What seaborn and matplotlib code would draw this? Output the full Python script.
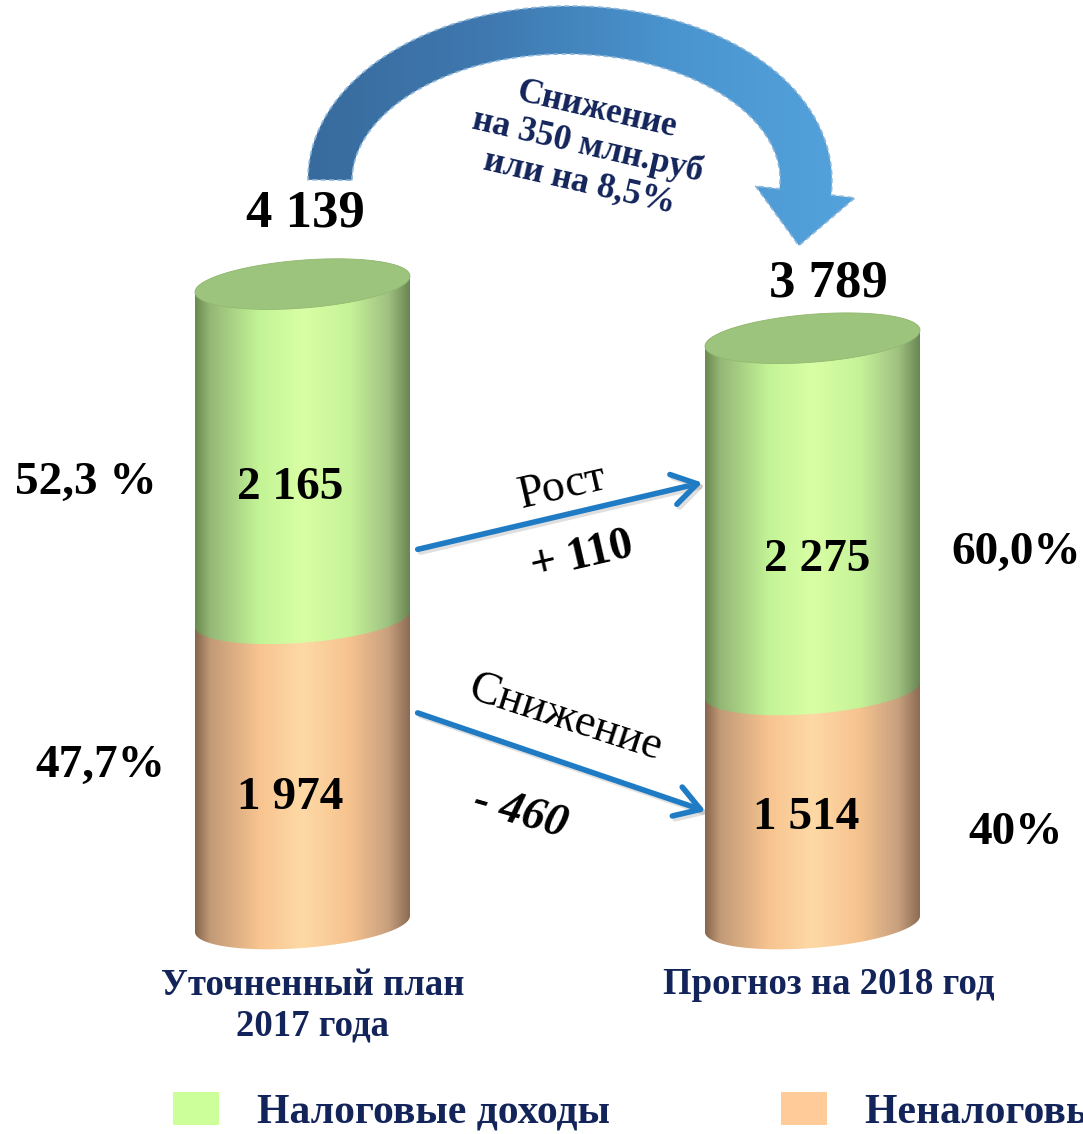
import numpy as np
import pandas as pd
import matplotlib
matplotlib.use("Agg")
import matplotlib.pyplot as plt
import seaborn as sns
from matplotlib.patches import Polygon, Rectangle, FancyArrowPatch
from matplotlib.colors import LinearSegmentedColormap
import matplotlib.patheffects as pe

# ---------------- data ----------------
categories = ["Уточненный план\n2017 года", "Прогноз на 2018 год"]
tax_income = [2165, 2275]
nontax_income = [1974, 1514]
totals = [4139, 3789]
total_labels = ["4 139", "3 789"]
tax_labels = ["2 165", "2 275"]
nontax_labels = ["1 974", "1 514"]
tax_share = ["52,3 %", "60,0%"]
nontax_share = ["47,7%", "40%"]
legend_labels = ["Налоговые доходы", "Неналоговые доходы"]
change_text = "Снижение\nна 350 млн.руб\nили на 8,5%"
tax_change = ["Рост", "+ 110"]
nontax_change = ["Снижение", "- 460"]

# ---------------- style ----------------
W, H = 1083, 1134
sns.set_theme(style="white")
plt.rcParams['font.family'] = ['Liberation Serif', 'DejaVu Serif']
NAVY = '#12245a'
GREEN = '#ccff99'
ORANGE = '#ffcc99'

fig = plt.figure(figsize=(W / 100, H / 100), dpi=100)
fig.patch.set_facecolor('white')
ax = fig.add_axes([0, 0, 1, 1])

df = pd.DataFrame({"cat": categories, "total": totals, "nontax": nontax_income})
bw = 215 / 510
sns.barplot(data=df, x="cat", y="total", color=GREEN, width=bw, errorbar=None,
            ax=ax, order=categories)
sns.barplot(data=df, x="cat", y="nontax", color=ORANGE, width=bw, errorbar=None,
            ax=ax, order=categories)
px_per_unit = 0.1546
base_px = 924
ax.set_xlim(-302.5 / 510, (W - 302.5) / 510)
ax.set_ylim((base_px - H) / px_per_unit, base_px / px_per_unit)
ax.axis('off')

# overlay axes in pixel coordinates (y down)
ax2 = fig.add_axes([0, 0, 1, 1], zorder=5)
ax2.set_xlim(0, W)
ax2.set_ylim(H, 0)
ax2.axis('off')
ax2.patch.set_alpha(0)


def to_px(x, y):
    dx, dy = ax.transData.transform((x, y))
    return dx, H - dy


green_cmap = LinearSegmentedColormap.from_list('g', [
    (0.0, '#6a8a4e'), (0.07, '#95b777'), (0.3, '#c3f496'), (0.5, '#d9ffa4'),
    (0.72, '#c6f398'), (0.9, '#a0c182'), (1.0, '#6a8652')])
orange_cmap = LinearSegmentedColormap.from_list('o', [
    (0.0, '#87664c'), (0.07, '#c29a77'), (0.3, '#f8c490'), (0.5, '#fed9a5'),
    (0.72, '#f6c38f'), (0.9, '#c8a07e'), (1.0, '#8c6c54')])
grad = np.linspace(0, 1, 256).reshape(1, -1)

B = 24      # ellipse semi-minor (px)
K = 0.075   # tilt shear


def ell(xc, a, yc, t):
    x = xc + a * np.cos(t)
    y = yc - B * np.sin(t) - K * (x - xc)
    return x, y


def segment(xl, xr, ytop, ybot, cmap, z):
    xc, a = (xl + xr) / 2, (xr - xl) / 2
    tb = np.linspace(np.pi, 2 * np.pi, 80)
    tt = np.linspace(0, np.pi, 80)
    bx, by = ell(xc, a, ybot, tb)
    tx_, ty_ = ell(xc, a, ytop, tt)
    xs = np.concatenate([bx, tx_])
    ys = np.concatenate([by, ty_])
    poly = Polygon(np.column_stack([xs, ys]), closed=True, facecolor='none',
                   edgecolor='none', zorder=z)
    ax2.add_patch(poly)
    im = ax2.imshow(grad, cmap=cmap, aspect='auto', zorder=z,
                    extent=[xl, xr, ybot + B + 20, ytop - B - 20])
    im.set_clip_path(poly)


bars = ax.patches
green_bars = bars[:2]
orange_bars = bars[2:4]
geo = []
for i, (gb, ob) in enumerate(zip(green_bars, orange_bars)):
    xl, ytop = to_px(gb.get_x(), gb.get_height())
    xr, ybot = to_px(gb.get_x() + gb.get_width(), 0)
    _, ymid = to_px(ob.get_x(), ob.get_height())
    gb.set_visible(False)
    ob.set_visible(False)
    segment(xl, xr, ymid, ybot, orange_cmap, 2)
    segment(xl, xr, ytop, ymid, green_cmap, 3)
    xc, a = (xl + xr) / 2, (xr - xl) / 2
    t = np.linspace(0, 2 * np.pi, 160)
    ex, ey = ell(xc, a, ytop, t)
    ax2.add_patch(Polygon(np.column_stack([ex, ey]), closed=True,
                          facecolor='#9dc47c', edgecolor='#93b873', lw=0.6, zorder=4))
    geo.append((xc, ytop, ymid, ybot))
ax2.set_xlim(0, W)
ax2.set_ylim(H, 0)

# value labels
val_font = dict(fontsize=34, fontweight='bold', color='black', ha='center', va='center')
tax_off = [(-12, 37), (5, 46)]
non_off = [(-12, 27), (-6, 11)]
tot_off = [(3, -71), (16, -55)]
for i, (xc, ytop, ymid, ybot) in enumerate(geo):
    ax2.text(xc + tax_off[i][0], (ytop + ymid) / 2 + tax_off[i][1], tax_labels[i], zorder=6, **val_font)
    ax2.text(xc + non_off[i][0], (ymid + ybot) / 2 + non_off[i][1], nontax_labels[i], zorder=6, **val_font)
    ax2.text(xc + tot_off[i][0], ytop + tot_off[i][1], total_labels[i], zorder=6,
             fontsize=38, fontweight='bold', color='black', ha='center', va='center')

# share labels
share_font = dict(fontsize=34, fontweight='bold', color='black', ha='center', va='center')
ax2.text(86, 483, tax_share[0], **share_font)
ax2.text(100, 766, nontax_share[0], **share_font)
ax2.text(1016, 553, tax_share[1], **share_font)
ax2.text(1016, 833, nontax_share[1], **share_font)

# category labels
cat_font = dict(fontsize=26.5, fontweight='bold', color=NAVY, ha='center', va='center',
                linespacing=1.22)
ax2.text(geo[0][0] + 10, 1006, categories[0], **cat_font)
ax2.text(geo[1][0] + 16, 985, categories[1], **cat_font)

# straight arrows
shadow = [pe.SimpleLineShadow(offset=(2, -2), alpha=0.25, shadow_color='gray'), pe.Normal()]
for (p0, p1) in [((415, 550), (705, 482)), ((415, 712), (708, 812))]:
    arr = FancyArrowPatch(p0, p1, arrowstyle='->,head_length=8,head_width=5',
                          mutation_scale=2.2, lw=4, color='#1f7bc4', zorder=6,
                          path_effects=shadow)
    ax2.add_patch(arr)

ax2.text(562, 487, tax_change[0], rotation=13, fontsize=33, color='black',
         ha='center', va='center', zorder=7)
ax2.text(582, 557, tax_change[1], rotation=13, fontsize=33, fontweight='bold',
         color='black', ha='center', va='center', zorder=7)
ax2.text(565, 718, nontax_change[0], rotation=-18, fontsize=33, color='black',
         ha='center', va='center', zorder=7)
ax2.text(520, 814, nontax_change[1], rotation=-16, fontsize=33, fontweight='bold',
         fontstyle='italic', color='black', ha='center', va='center', zorder=7)

# big curved arrow
cx, cy, a_, b_ = 568, 180, 238, 150
ts = np.linspace(np.pi, -0.08, 300)
xs = cx + a_ * np.cos(ts)
ys = cy - b_ * np.sin(ts)
dx, dy = np.gradient(xs), np.gradient(ys)
L = np.hypot(dx, dy)
tx, ty = dx / L, dy / L
nx, ny = -ty, tx
w = np.linspace(44, 52, len(ts)) / 2
sideA = np.column_stack([xs + nx * w, ys + ny * w])
sideB = np.column_stack([xs - nx * w, ys - ny * w])
P = np.array([xs[-1], ys[-1]])
tv = np.array([tx[-1], ty[-1]])
nv = np.array([nx[-1], ny[-1]])
head = np.array([P + nv * 50, P + tv * 54, P - nv * 50])
arc_pts = np.vstack([sideA, head, sideB[::-1]])
arc = Polygon(arc_pts, closed=True, facecolor='none', edgecolor='#8cb6da',
              lw=1.2, linestyle=(0, (3, 2)), zorder=6)
ax2.add_patch(arc)
blue_cmap = LinearSegmentedColormap.from_list('b', ['#386a9c', '#3f79b0', '#4a95d0', '#55a4de'])
im = ax2.imshow(grad, cmap=blue_cmap, aspect='auto', zorder=5,
                extent=[300, 870, 260, 0])
im.set_clip_path(arc)
ax2.set_xlim(0, W)
ax2.set_ylim(H, 0)

ax2.text(588, 146, change_text, rotation=-13, fontsize=25.5, fontweight='bold',
         color=NAVY, ha='center', va='center', linespacing=1.15, zorder=7,
         rotation_mode='anchor')

# legend
handles = [Rectangle((0, 0), 1, 1, facecolor=GREEN, edgecolor='none'),
           Rectangle((0, 0), 1, 1, facecolor=ORANGE, edgecolor='none')]
leg = fig.legend(handles, legend_labels, loc='lower left', ncol=2, frameon=False,
                 bbox_to_anchor=(173 / W, 2 / H), borderpad=0, borderaxespad=0,
                 fontsize=30, handlelength=1.1, handleheight=0.85,
                 handletextpad=0.92, columnspacing=4.1)
for txt in leg.get_texts():
    txt.set_color(NAVY)
    txt.set_fontweight('bold')

fig.savefig('out.png', dpi=100, facecolor='white')
